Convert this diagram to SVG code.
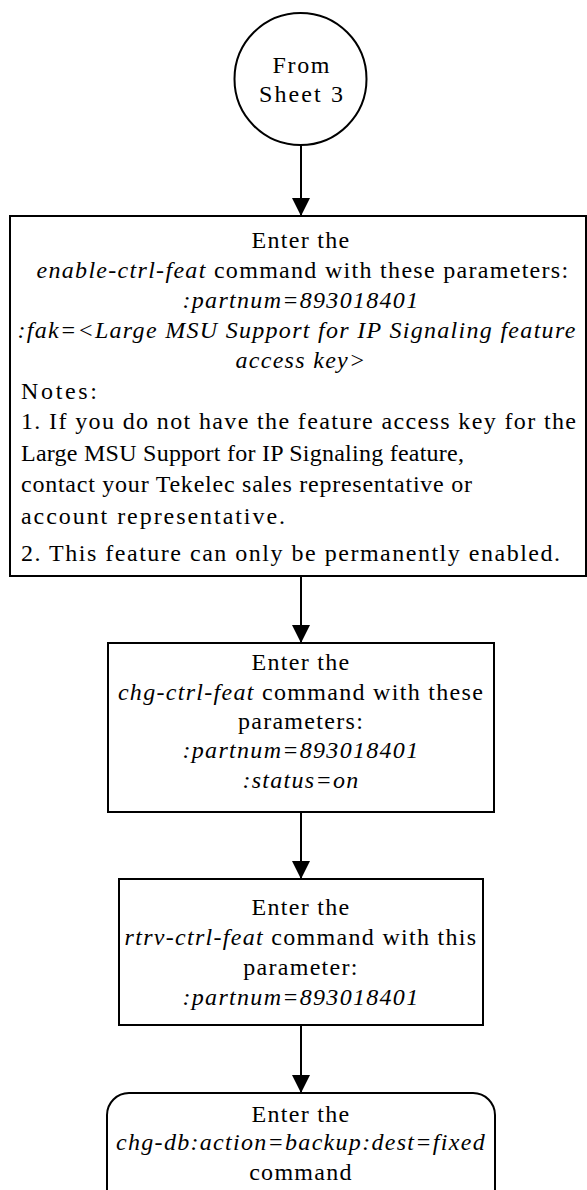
<svg xmlns="http://www.w3.org/2000/svg" width="587" height="1190" viewBox="0 0 587 1190">
<style>
.s{fill:#fff;stroke:#000;stroke-width:2}
.t{font-family:"Liberation Serif","Times New Roman",serif;font-size:24px;fill:#000;letter-spacing:1.3px}
.c{text-anchor:middle}
.i{font-style:italic}
.n{letter-spacing:0}
.ln{stroke:#000;stroke-width:2;fill:none}
</style>
<defs>
<marker id="ah" markerUnits="userSpaceOnUse" markerWidth="18" markerHeight="20" refX="18" refY="9" orient="auto">
<path d="M0,0 L18,9 L0,18 Z" fill="#000"/>
</marker>
</defs>
<g id="connectors">
<line class="ln" x1="301" y1="145" x2="301" y2="216" marker-end="url(#ah)"/>
<line class="ln" x1="301" y1="576" x2="301" y2="643" marker-end="url(#ah)"/>
<line class="ln" x1="301" y1="812" x2="301" y2="879" marker-end="url(#ah)"/>
<line class="ln" x1="301" y1="1025" x2="301" y2="1093" marker-end="url(#ah)"/>
</g>
<g id="start">
<circle class="s" cx="300.5" cy="79" r="66"/>
<text class="t c n" x="301" y="73" textLength="57" lengthAdjust="spacing">From</text>
<text class="t c n" x="301" y="102" textLength="84" lengthAdjust="spacing">Sheet 3</text>
</g>
<g id="enable">
<rect class="s" x="10" y="216" width="576" height="360"/>
<text class="t c" x="301" y="248">Enter the</text>
<text class="t c" x="303" y="278"><tspan class="i">enable-ctrl-feat</tspan> command with these parameters:</text>
<text class="t c i" x="301" y="308">:partnum=893018401</text>
<text class="t c i" x="297" y="338">:fak=&lt;Large MSU Support for IP Signaling feature</text>
<text class="t c i" x="301" y="368">access key&gt;</text>
<text class="t n" x="21" y="399" textLength="76" lengthAdjust="spacing">Notes:</text>
<text class="t n" x="21" y="429" textLength="555" lengthAdjust="spacing">1. If you do not have the feature access key for the</text>
<text class="t n" x="21" y="461" textLength="443" lengthAdjust="spacing">Large MSU Support for IP Signaling feature,</text>
<text class="t n" x="21" y="492" textLength="451" lengthAdjust="spacing">contact your Tekelec sales representative or</text>
<text class="t n" x="21" y="524" textLength="264" lengthAdjust="spacing">account representative.</text>
<text class="t n" x="21" y="561" textLength="539" lengthAdjust="spacing">2. This feature can only be permanently enabled.</text>
</g>
<g id="chg">
<rect class="s" x="108" y="643" width="386" height="169"/>
<text class="t c" x="301" y="670">Enter the</text>
<text class="t c" x="301" y="700"><tspan class="i">chg-ctrl-feat</tspan> command with these</text>
<text class="t c" x="301" y="729">parameters:</text>
<text class="t c i" x="301" y="758">:partnum=893018401</text>
<text class="t c i" x="301" y="788">:status=on</text>
</g>
<g id="rtrv">
<rect class="s" x="119" y="879" width="364" height="146"/>
<text class="t c" x="301" y="915">Enter the</text>
<text class="t c" x="301" y="945"><tspan class="i">rtrv-ctrl-feat</tspan> command with this</text>
<text class="t c" x="301" y="975">parameter:</text>
<text class="t c i" x="301" y="1005">:partnum=893018401</text>
</g>
<g id="backup">
<rect class="s" x="107" y="1093" width="388" height="130" rx="22"/>
<text class="t c" x="301" y="1122">Enter the</text>
<text class="t c" x="301" y="1150"><tspan class="i">chg-db:action=backup:dest=fixed</tspan></text>
<text class="t c" x="301" y="1180">command</text>
</g>
</svg>
